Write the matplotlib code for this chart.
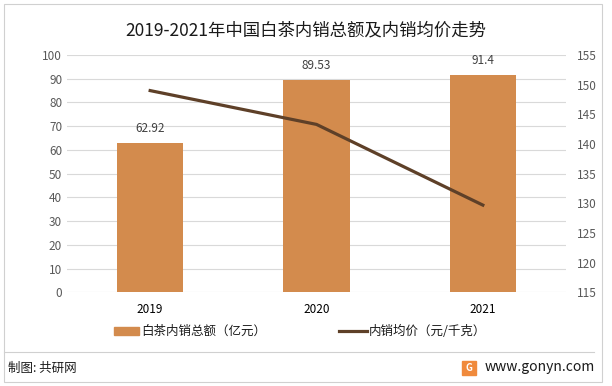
import matplotlib
matplotlib.use("Agg")
import matplotlib.pyplot as plt
from matplotlib.patches import Rectangle
from matplotlib.lines import Line2D

plt.rcParams['font.family'] = ['Noto Sans CJK SC', 'DejaVu Sans']

years = ['2019', '2020', '2021']
sales = [62.92, 89.53, 91.4]
price = [149.0, 143.3, 129.7]
sales_labels = ['62.92', '89.53', '91.4']
title = '2019-2021年中国白茶内销总额及内销均价走势'
bar_name = '白茶内销总额（亿元）'
line_name = '内销均价（元/千克）'

bar_color = '#D38B4D'
line_color = '#5E4028'
tick_color = '#595959'

fig = plt.figure(figsize=(6.12, 3.86), dpi=100)
ax = fig.add_axes([67/612, 1-292.3/386, (566-67)/612, (292.3-55)/386])
x = list(range(len(years)))
ax.bar(x, sales, width=0.4, color=bar_color, zorder=2)
for xi, v, s in zip(x, sales, sales_labels):
    ax.annotate(s, (xi, v), xytext=(0, 6), textcoords='offset points',
                ha='center', va='bottom', fontsize=8.5, color='#404040')
ax.set_ylim(0, 100)
ax.set_yticks(range(0, 101, 10))
ax.set_xlim(-0.5, 2.5)
ax.set_xticks(x)
ax.set_xticklabels(years)
ax.grid(axis='y', color='#D9D9D9', linewidth=0.8, zorder=0)
ax.set_axisbelow(True)
for sp in ax.spines.values():
    sp.set_visible(False)
ax.tick_params(axis='both', length=0, labelsize=8.5, colors=tick_color)
ax.tick_params(axis='x', pad=8, colors='#000000')

ax2 = ax.twinx()
ax2.plot(x, price, color=line_color, linewidth=2.3, zorder=3)
ax2.set_ylim(115, 155)
ax2.set_yticks(range(115, 156, 5))
for sp in ax2.spines.values():
    sp.set_visible(False)
ax2.tick_params(axis='y', length=0, labelsize=8.5, colors=tick_color, pad=8)

fig.text(0.5, 1-30/386, title, ha='center', va='center', fontsize=12.5, color='#1a1a1a')

# legend
ly = 1-331/386
fig.patches.append(Rectangle((114/612, ly-4/386), 25/612, 8/386, transform=fig.transFigure,
                             color=bar_color))
fig.text(141/612, ly, bar_name, ha='left', va='center', fontsize=9, color='#1a1a1a')
fig.lines.append(Line2D([339/612, 367/612], [ly, ly], transform=fig.transFigure,
                        color=line_color, linewidth=2.3))
fig.text(369/612, ly, line_name, ha='left', va='center', fontsize=9, color='#1a1a1a')

# frame and footer
fig.patches.append(Rectangle((4/612, 4/386), 598/612, 378/386, transform=fig.transFigure,
                             fill=False, edgecolor='#D0D0D0', linewidth=0.8))
fig.lines.append(Line2D([4/612, 594/612], [1-352/386, 1-352/386], transform=fig.transFigure,
                        color='#D0D0D0', linewidth=0.8))
fig.text(8/612, 1-368/386, '制图: 共研网', ha='left', va='center', fontsize=9, color='#1a1a1a')
fig.patches.append(Rectangle((462/612, 1-375/386), 14/612, 14/386, transform=fig.transFigure,
                             color='#F08A3C'))
fig.text(469/612, 1-368/386, 'G', ha='center', va='center', fontsize=7, color='white', fontweight='bold')
fig.text(595/612, 1-367/386, 'www.gonyn.com', ha='right', va='center', fontsize=10, color='#1a1a1a')

fig.savefig('out.png', dpi=100)
